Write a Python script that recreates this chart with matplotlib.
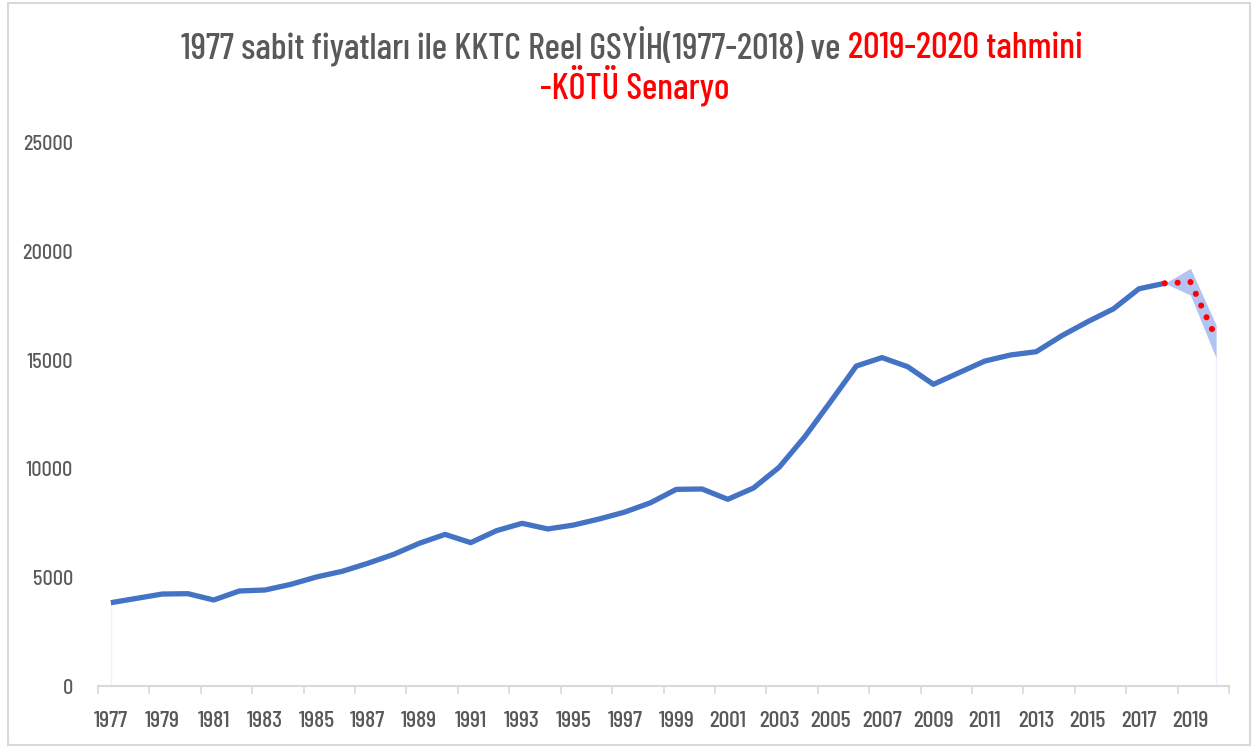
import numpy as np
import matplotlib
matplotlib.use("Agg")
import matplotlib.pyplot as plt
from matplotlib.patches import Rectangle

# veriler
years = list(range(1977, 2021))
gdp_years = list(range(1977, 2019))
gdp = [3835, 4035, 4235, 4250, 3960, 4375, 4420, 4680, 5020, 5280,
       5650, 6060, 6570, 6980, 6600, 7150, 7490, 7230, 7410, 7690,
       8010, 8440, 9055, 9070, 8595, 9115, 10070, 11480, 13090, 14730,
       15120, 14700, 13890, 14425, 14960, 15240, 15390, 16130, 16770, 17360,
       18290, 18540]
fc_years = [2018, 2019, 2020]
fc_mid = [18540, 18600, 16010]
fc_low = [18540, 18000, 15090]
fc_high = [18540, 19230, 16620]
yticks = [0, 5000, 10000, 15000, 20000, 25000]

TITLE_FONT = ["Barlow Condensed", "DejaVu Sans"]
TICK_FONT = ["Barlow Semi Condensed", "DejaVu Sans"]
GRAY = "#595959"
plt.rcParams["font.family"] = TICK_FONT

fig = plt.figure(figsize=(12.55, 7.48), dpi=100)
ax = fig.add_axes([98/1255, 1-686/748, (1229-98)/1255, (686-143)/748])

idx = {y: i for i, y in enumerate(years)}
gx = [idx[y] for y in gdp_years]
fx = [idx[y] for y in fc_years]

ax.fill_between(fx, fc_low, fc_high, color="#b4c4f2", lw=0, zorder=1)
# faint area edges
ax.plot([fx[-1], fx[-1]], [0, fc_low[-1]], color="#eef1fb", lw=1, zorder=0)
ax.plot([gx[0], gx[0]], [0, gdp[0]], color="#f3f3f3", lw=1, zorder=0)
ax.plot(fx, fc_mid, color="#ff0000", lw=4.4, linestyle=(0, (0.01, 2.1)),
        dash_capstyle="round", zorder=4)
ax.plot(gx, gdp, color="#4472c4", lw=3.8, solid_capstyle="butt",
        solid_joinstyle="round", zorder=3)

ax.set_xlim(-0.5, len(years) - 0.5)
ax.set_ylim(0, 25000)
ax.set_yticks(yticks)
ax.set_yticklabels([str(v) for v in yticks], fontfamily=TICK_FONT,
                   fontweight="medium")

# category axis: ticks between categories, label every 2nd
ax.set_xticks(np.arange(-0.5, len(years), 2), minor=False)
ax.set_xticklabels([])
ax.set_xticks(np.arange(0, len(years), 2), minor=True)
ax.set_xticklabels([str(years[i]) for i in range(0, len(years), 2)], minor=True,
                   fontfamily=TITLE_FONT, fontweight="medium")
ax.tick_params(axis="x", which="major", length=6, color="#d9d9d9", width=1.2)
ax.tick_params(axis="x", which="minor", length=0, pad=18, labelsize=17,
               labelcolor=GRAY)
ax.tick_params(axis="y", length=0, pad=18, labelsize=14.5, labelcolor=GRAY)

for s in ["top", "right", "left"]:
    ax.spines[s].set_visible(False)
ax.spines["bottom"].set_color("#d9d9d9")
ax.spines["bottom"].set_linewidth(1.5)

# chart border
fig.patches.append(Rectangle((8/1255, 3/748), 1242/1255, 742/748,
                             transform=fig.transFigure, fill=False,
                             edgecolor="#d9d9d9", lw=1.5))

# title in two colours
part1 = "1977 sabit fiyatları ile KKTC Reel GSYİH(1977-2018) ve "
part2 = "2019-2020 tahmini"
fs = 26.3
renderer = fig.canvas.get_renderer()
t1 = fig.text(0, 0, part1, fontsize=fs, color=GRAY, family=TITLE_FONT,
              fontweight="medium", va="baseline")
t2 = fig.text(0, 0, part2, fontsize=fs, color="#ff0000", family=TITLE_FONT,
              fontweight="medium", va="baseline")
w1 = t1.get_window_extent(renderer).width
w2 = t2.get_window_extent(renderer).width
x0 = 632 - (w1 + w2) / 2
y1 = 1 - 58/748
t1.set_position((x0/1255, y1))
t2.set_position(((x0 + w1)/1255, y1))
fig.text(635/1255, 1 - 99/748, "-KÖTÜ Senaryo", fontsize=fs,
         color="#ff0000", ha="center", va="baseline", family=TITLE_FONT,
         fontweight="medium")

fig.savefig("out.png", dpi=100)
